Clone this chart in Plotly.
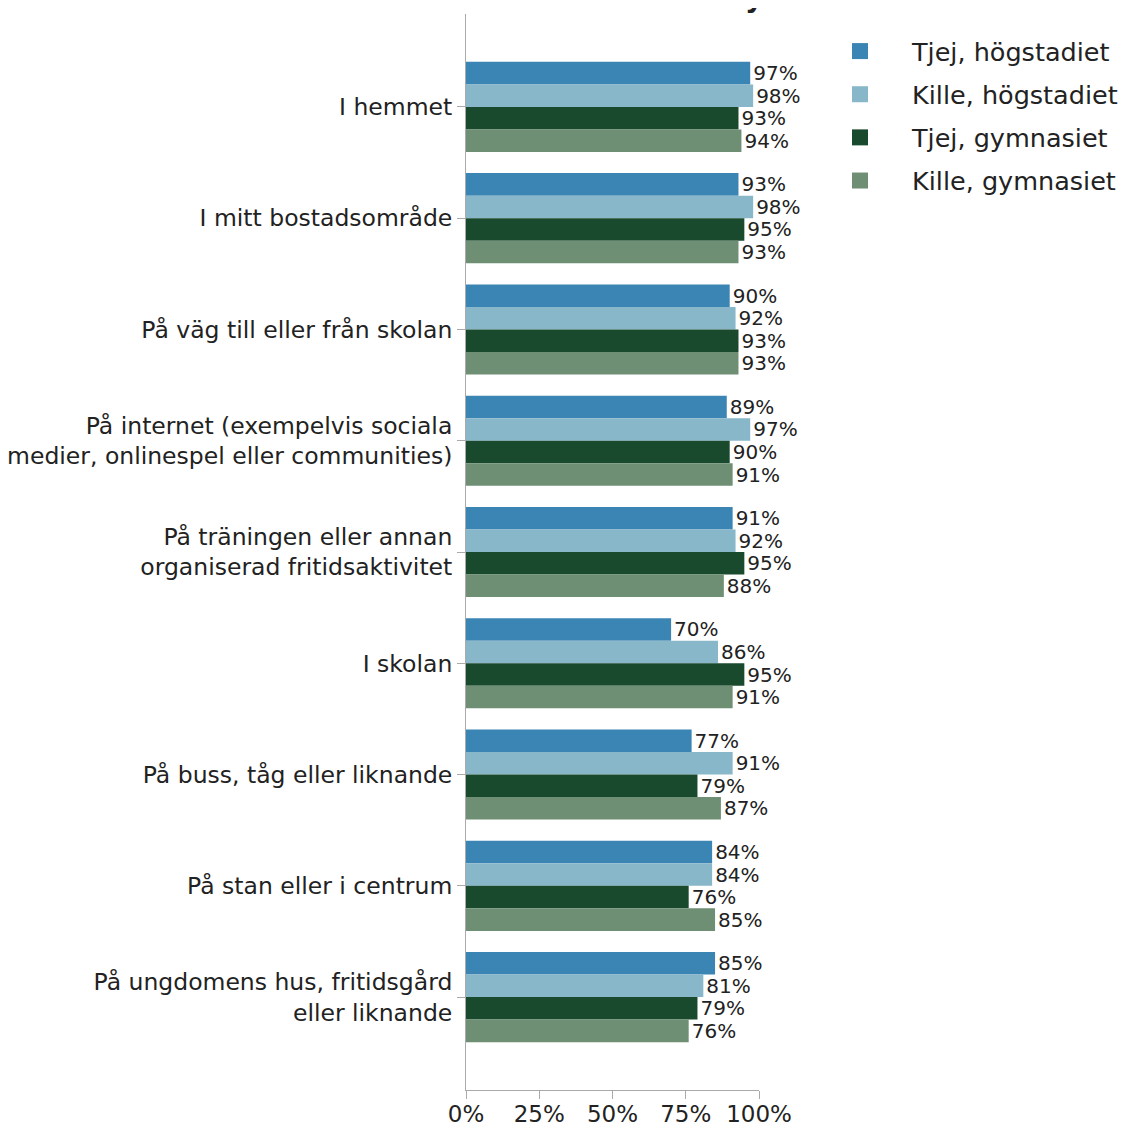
import plotly.graph_objects as go

categories = [
    "I hemmet",
    "I mitt bostadsområde",
    "På väg till eller från skolan",
    "På internet (exempelvis sociala<br>medier, onlinespel eller communities)",
    "På träningen eller annan<br>organiserad fritidsaktivitet",
    "I skolan",
    "På buss, tåg eller liknande",
    "På stan eller i centrum",
    "På ungdomens hus, fritidsgård<br>eller liknande",
]
series_names = ["Tjej, högstadiet", "Kille, högstadiet", "Tjej, gymnasiet", "Kille, gymnasiet"]
tjej_hog = [97, 93, 90, 89, 91, 70, 77, 84, 85]
kille_hog = [98, 98, 92, 97, 92, 86, 91, 84, 81]
tjej_gym = [93, 95, 93, 90, 95, 95, 79, 76, 79]
kille_gym = [94, 93, 93, 91, 88, 91, 87, 85, 76]
colors = ["#3A85B3", "#87B7C8", "#1A4A2E", "#6E8F74"]
x_ticks = [0, 25, 50, 75, 100]
x_tick_labels = ["0%", "25%", "50%", "75%", "100%"]

FONT = "DejaVu Sans"
TXT = "#222222"
AX = "#AAAAAA"
W, H = 1130, 1126
fig = go.Figure()
for name, vals, col in zip(series_names, [tjej_hog, kille_hog, tjej_gym, kille_gym], colors):
    fig.add_trace(go.Bar(
        y=categories, x=vals, orientation="h", name=name,
        marker=dict(color=col, line=dict(width=0)),
        text=[f"{v}%" for v in vals], textposition="outside",
        textfont=dict(family=FONT, size=20, color=TXT),
        constraintext="none", cliponaxis=False, showlegend=False,
    ))
for i, (name, col) in enumerate(zip(series_names, colors)):
    fig.add_trace(go.Scatter(
        x=[None], y=[None], mode="markers", name=name,
        marker=dict(symbol="square", size=16, color=col),
        legendgroup=f"g{i}", showlegend=True,
    ))

fig.update_layout(
    width=W, height=H,
    barmode="group", bargap=0.19, bargroupgap=0,
    plot_bgcolor="white", paper_bgcolor="white",
    margin=dict(l=458, r=379, t=6, b=44, autoexpand=False),
    font=dict(family=FONT, size=23, color=TXT),
    legend=dict(xref="container", yref="container",
                x=800 / W, y=1 - 20 / H, xanchor="left", yanchor="top",
                font=dict(family=FONT, size=25.5, color=TXT),
                traceorder="grouped", tracegroupgap=7, itemwidth=94),
    xaxis=dict(range=[0, 100], tickvals=x_ticks, ticktext=x_tick_labels,
               automargin=False,
               showgrid=False, zeroline=False, showline=True,
               linecolor=AX, linewidth=1, ticks="outside",
               ticklen=3, tickcolor=AX,
               minor=dict(tickvals=x_ticks, ticks="outside", ticklen=8,
                          tickcolor=AX, showgrid=False),
               tickfont=dict(family=FONT, size=23, color=TXT)),
    yaxis=dict(categoryorder="array", categoryarray=categories,
               range=[8.835, -0.835], showgrid=False, zeroline=False,
               automargin=False,
               showline=True, linecolor=AX, linewidth=1,
               ticks="outside", ticklen=8, tickcolor=AX,
               tickfont=dict(family=FONT, size=23.5, color=TXT)),
    annotations=[dict(text="<b>yes</b>", xref="paper", yref="paper",
                      x=(772 - 466) / 293, y=1.0 - 2 / 1076,
                      xanchor="center", yanchor="bottom", showarrow=False,
                      font=dict(family=FONT, size=28, color=TXT))],
)
fig.write_html("out.html")
